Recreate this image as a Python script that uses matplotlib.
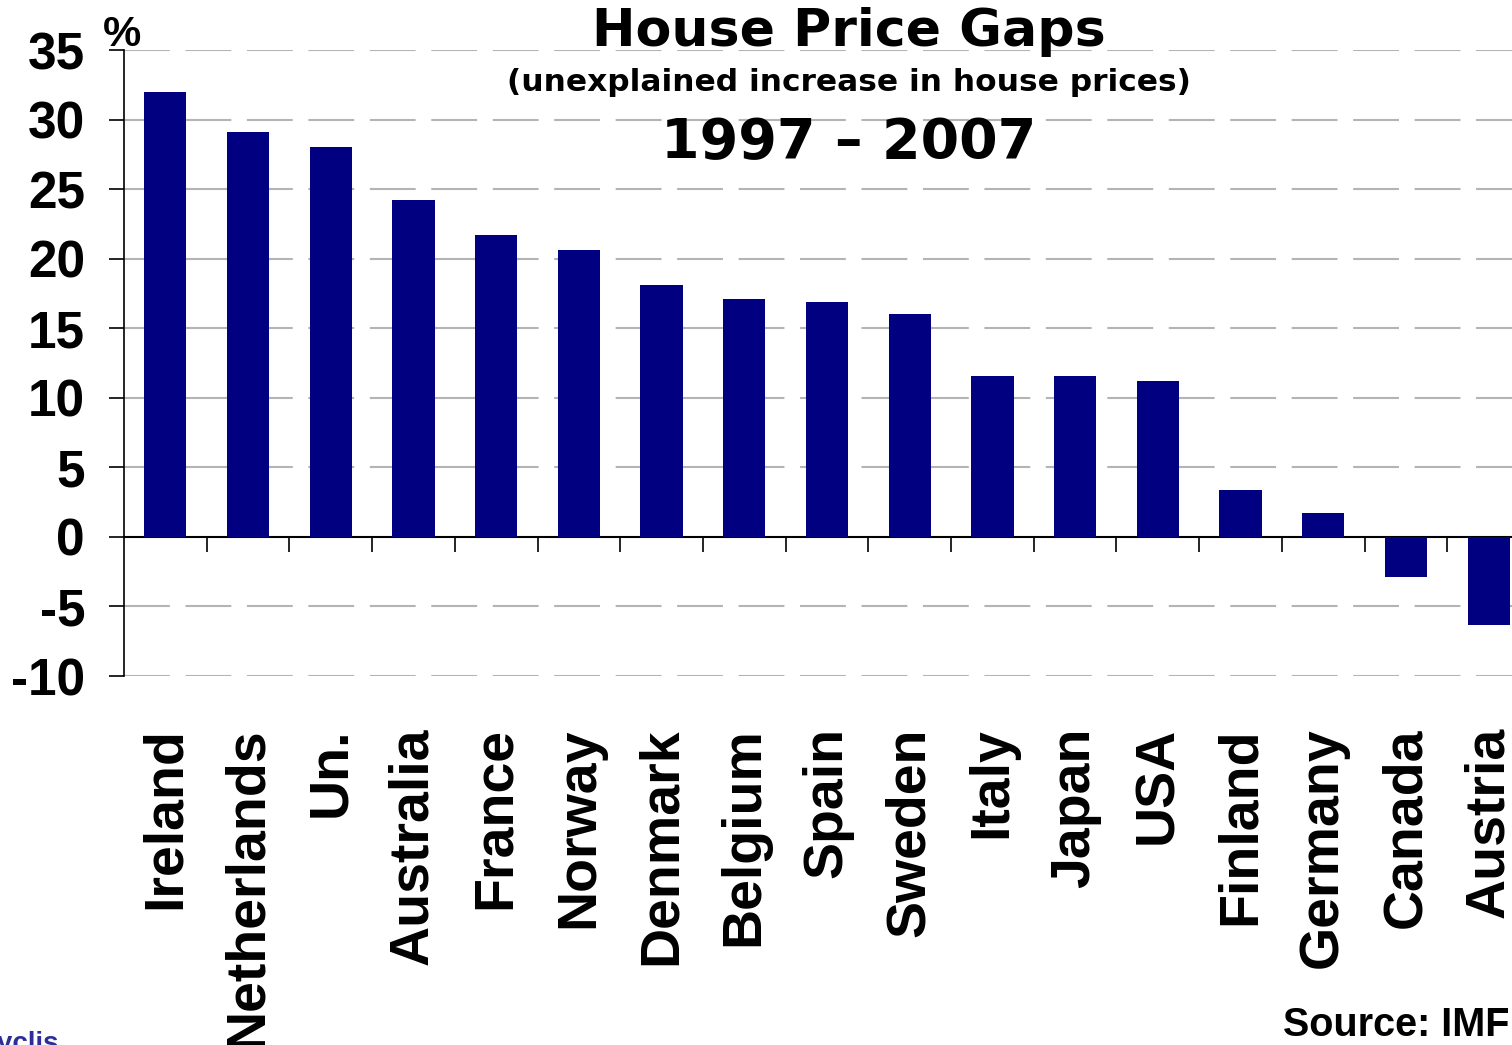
import matplotlib.pyplot as plt
import numpy as np

# data
countries = ['Ireland', 'Netherlands', 'Un.', 'Australia', 'France', 'Norway',
             'Denmark', 'Belgium', 'Spain', 'Sweden', 'Italy', 'Japan', 'USA',
             'Finland', 'Germany', 'Canada', 'Austria']
gaps = [32.0, 29.1, 28.0, 24.2, 21.7, 20.6, 18.1, 17.1, 16.9, 16.0,
        11.6, 11.6, 11.2, 3.4, 1.7, -2.9, -6.3]
yticks = [-10, -5, 0, 5, 10, 15, 20, 25, 30, 35]

W, H = 1512, 1045
fig = plt.figure(figsize=(W / 100, H / 100), dpi=100)
ax = fig.add_axes([124 / W, 369 / H, 1406 / W, 626 / H])

x = np.arange(len(countries))
ax.bar(x, gaps, width=0.51, color='#000080', zorder=3)

ax.set_xlim(-0.5, len(countries) - 0.5)
ax.set_ylim(-10, 35)

# dashed grid, skipping the zero line
for v in yticks:
    if v != 0:
        ax.axhline(v, color='#b4b4b4', lw=1.5, ls=(0, (22, 7.5)), zorder=1)

for s in ['top', 'right']:
    ax.spines[s].set_visible(False)
ax.spines['bottom'].set_position(('data', 0))
ax.spines['bottom'].set_linewidth(1.5)
ax.spines['left'].set_linewidth(1.2)

ax.set_yticks(yticks)
ax.set_yticklabels([str(v) for v in yticks], fontfamily='Liberation Sans',
                   fontweight='bold', fontsize=37)
ax.tick_params(axis='y', length=11, width=1.2, pad=17)

ax.set_xticks(np.arange(0.5, len(countries), 1.0))
ax.set_xticklabels([])
ax.tick_params(axis='x', which='major', length=11, width=1.2, direction='out')
ax.set_xticks(x, minor=True)
ax.set_xticklabels(countries, minor=True, rotation=90, va='top', ha='center',
                   fontfamily='Liberation Sans', fontweight='bold', fontsize=40)
ax.tick_params(axis='x', which='minor', length=0, pad=137)

fig.text(103 / W, 1 - 15 / H, '%', fontfamily='Liberation Sans',
         fontweight='bold', fontsize=31, va='top', ha='left')

fig.text(849 / W, 1 - 7 / H, 'House Price Gaps', fontfamily='DejaVu Sans',
         fontweight='bold', fontsize=37.5, ha='center', va='top')
fig.text(849 / W, 1 - 68 / H, '(unexplained increase in house prices)',
         fontfamily='DejaVu Sans', fontweight='bold', fontsize=22.5,
         ha='center', va='top')
fig.text(849 / W, 1 - 116 / H, '1997 \u2013 2007', fontfamily='DejaVu Sans',
         fontweight='bold', fontsize=40, ha='center', va='top')

fig.text(1283 / W, 1 - 1036 / H, 'Source: IMF', fontfamily='Liberation Sans',
         fontweight='bold', fontsize=28.5, ha='left', va='baseline')
fig.text(-22 / W, 1 - 1031 / H, 'Cyclis', fontfamily='Liberation Sans',
         fontweight='bold', fontsize=20, color='#2e2e9a', ha='left', va='top')

fig.savefig('out.png', dpi=100)
